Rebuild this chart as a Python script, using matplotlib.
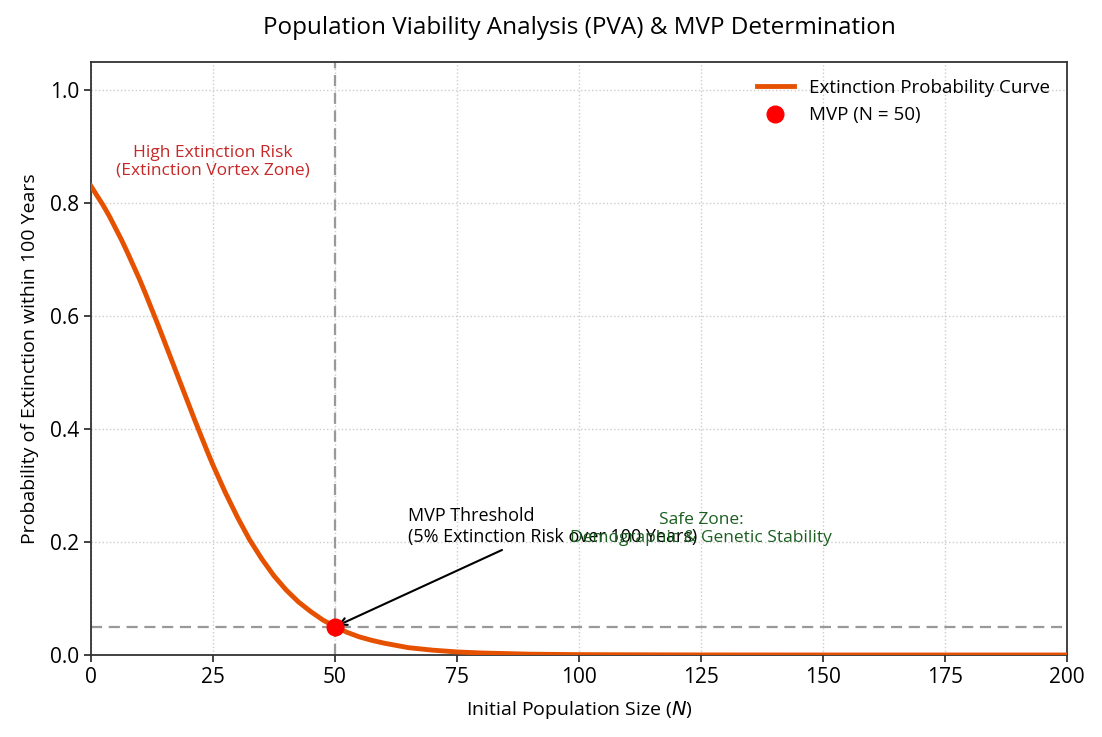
import matplotlib
matplotlib.use("Agg")
import matplotlib.pyplot as plt

plt.rcParams['font.family'] = ['Open Sans', 'DejaVu Sans']

# Data
pop_size = [0, 1.25, 2.5, 3.75, 5, 6.25, 7.5, 8.75, 10, 11.25, 12.5, 13.75, 15,
            16.25, 17.5, 18.75, 20, 21.25, 22.5, 23.75, 25, 27.5, 30, 32.5, 35,
            37.5, 40, 42.5, 45, 47.5, 50, 52.5, 55, 57.5, 60, 65, 70, 75, 80,
            90, 100, 125, 150, 175, 200]
extinction_prob = [0.830, 0.813, 0.796, 0.777, 0.756, 0.735, 0.712, 0.688, 0.664,
                   0.638, 0.611, 0.584, 0.556, 0.528, 0.500, 0.472, 0.444, 0.416,
                   0.389, 0.362, 0.336, 0.288, 0.244, 0.204, 0.170, 0.140, 0.115,
                   0.094, 0.077, 0.062, 0.050, 0.040, 0.032, 0.026, 0.021, 0.013,
                   0.0085, 0.0054, 0.0035, 0.0014, 0.0006, 0.00006, 0.0, 0.0, 0.0]
mvp_n = 50
mvp_p = 0.05
x_ticks = [0, 25, 50, 75, 100, 125, 150, 175, 200]
y_ticks = [0.0, 0.2, 0.4, 0.6, 0.8, 1.0]

fig = plt.figure(figsize=(11.02, 7.37), dpi=100)
ax = fig.add_axes([0.0826, 0.1113, 0.8856, 0.8046])

ax.grid(True, linestyle=':', color='#cccccc', linewidth=1.0)
ax.set_axisbelow(True)

ax.axvline(mvp_n, color='#999999', linestyle='--', linewidth=1.6,
           dashes=(5, 3), zorder=2)
ax.axhline(mvp_p, color='#999999', linestyle='--', linewidth=1.6,
           dashes=(5, 3), zorder=2)

ax.plot(pop_size, extinction_prob, color='#E65100', linewidth=3.5,
        label='Extinction Probability Curve', zorder=3, solid_joinstyle='round')
ax.plot([mvp_n], [mvp_p], 'o', color='red', markersize=12,
        label=f'MVP (N = {mvp_n})', zorder=4)

ax.annotate('MVP Threshold\n(5% Extinction Risk over 100 Years)',
            xy=(mvp_n, mvp_p), xytext=(65, 0.2), fontsize=13,
            arrowprops=dict(arrowstyle='->', color='black', lw=1.5))

ax.text(25, 0.85, 'High Extinction Risk\n(Extinction Vortex Zone)',
        color='#C62828', fontsize=12.5, ha='center')
ax.text(125, 0.2, 'Safe Zone:\nDemographic & Genetic Stability',
        color='#1B5E20', fontsize=12.5, ha='center')

ax.set_xlim(0, 200)
ax.set_ylim(0, 1.05)
ax.set_xticks(x_ticks)
ax.set_yticks(y_ticks)
ax.tick_params(labelsize=15, width=1.3, length=5, color='#333333')
for s in ax.spines.values():
    s.set_color('#333333')
    s.set_linewidth(1.3)

ax.set_xlabel('Initial Population Size ($N$)', fontsize=14, labelpad=8)
ax.set_ylabel('Probability of Extinction within 100 Years', fontsize=14, labelpad=8)
ax.set_title('Population Viability Analysis (PVA) & MVP Determination',
             fontsize=17.5, pad=20)

ax.legend(loc='upper right', frameon=False, fontsize=13.5)

fig.savefig('out.png', dpi=100)
